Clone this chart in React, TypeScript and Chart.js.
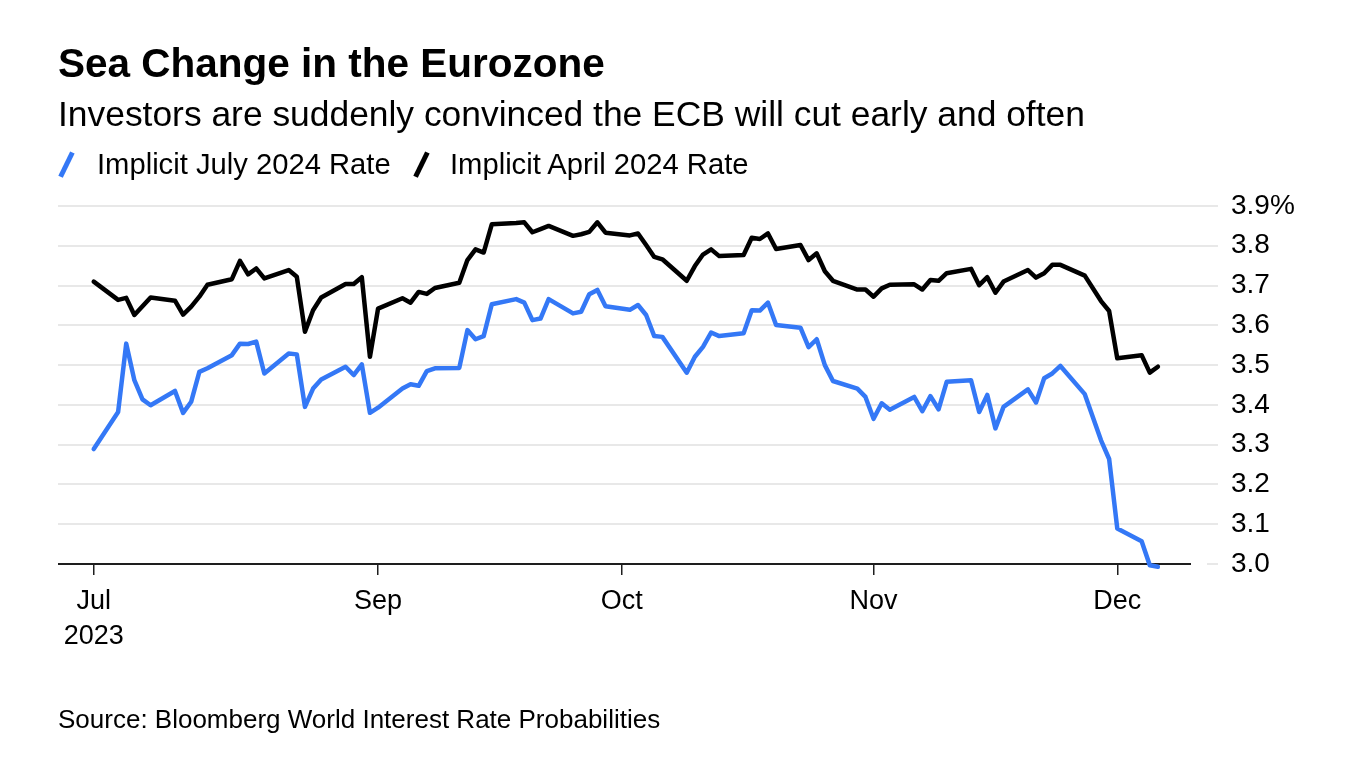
import React, { useEffect, useRef } from 'react';
import { Chart, registerables } from 'chart.js';

Chart.register(...registerables);

// ---- data ----
const dates = [
  '2023-07-28', '2023-07-31', '2023-08-01', '2023-08-02', '2023-08-03', '2023-08-04',
  '2023-08-07', '2023-08-08', '2023-08-09', '2023-08-10', '2023-08-11',
  '2023-08-14', '2023-08-15', '2023-08-16', '2023-08-17', '2023-08-18',
  '2023-08-21', '2023-08-22', '2023-08-23', '2023-08-24', '2023-08-25',
  '2023-08-28', '2023-08-29', '2023-08-30', '2023-08-31', '2023-09-01',
  '2023-09-04', '2023-09-05', '2023-09-06', '2023-09-07', '2023-09-08',
  '2023-09-11', '2023-09-12', '2023-09-13', '2023-09-14', '2023-09-15',
  '2023-09-18', '2023-09-19', '2023-09-20', '2023-09-21', '2023-09-22',
  '2023-09-25', '2023-09-26', '2023-09-27', '2023-09-28', '2023-09-29',
  '2023-10-02', '2023-10-03', '2023-10-04', '2023-10-05', '2023-10-06',
  '2023-10-09', '2023-10-10', '2023-10-11', '2023-10-12', '2023-10-13',
  '2023-10-16', '2023-10-17', '2023-10-18', '2023-10-19', '2023-10-20',
  '2023-10-23', '2023-10-24', '2023-10-25', '2023-10-26', '2023-10-27',
  '2023-10-30', '2023-10-31', '2023-11-01', '2023-11-02', '2023-11-03',
  '2023-11-06', '2023-11-07', '2023-11-08', '2023-11-09', '2023-11-10',
  '2023-11-13', '2023-11-14', '2023-11-15', '2023-11-16', '2023-11-17',
  '2023-11-20', '2023-11-21', '2023-11-22', '2023-11-23', '2023-11-24',
  '2023-11-27', '2023-11-29', '2023-11-30', '2023-12-01',
  '2023-12-04', '2023-12-05', '2023-12-06',
];

const julyRate = [
  3.289, 3.382, 3.554, 3.462, 3.414, 3.399,
  3.435, 3.380, 3.408, 3.483, 3.492,
  3.525, 3.554, 3.553, 3.559, 3.479,
  3.529, 3.527, 3.395, 3.441, 3.464,
  3.496, 3.475, 3.502, 3.380, 3.393,
  3.441, 3.452, 3.448, 3.485, 3.492,
  3.493, 3.588, 3.565, 3.573, 3.653,
  3.666, 3.657, 3.613, 3.617, 3.666,
  3.630, 3.634, 3.678, 3.689, 3.648,
  3.639, 3.651, 3.626, 3.573, 3.571,
  3.481, 3.521, 3.546, 3.582, 3.573,
  3.580, 3.638, 3.637, 3.657, 3.601,
  3.594, 3.545, 3.565, 3.500, 3.460,
  3.441, 3.420, 3.365, 3.404, 3.388,
  3.420, 3.384, 3.422, 3.389, 3.458,
  3.462, 3.382, 3.425, 3.341, 3.395,
  3.439, 3.406, 3.467, 3.479, 3.498,
  3.427, 3.311, 3.264, 3.089,
  3.057, 2.997, 2.993,
];

const aprilRate = [
  3.710, 3.664, 3.669, 3.626, 3.648, 3.670,
  3.662, 3.627, 3.647, 3.672, 3.702,
  3.716, 3.762, 3.728, 3.743, 3.718,
  3.739, 3.722, 3.584, 3.638, 3.670,
  3.704, 3.704, 3.721, 3.521, 3.642,
  3.668, 3.657, 3.684, 3.679, 3.694,
  3.707, 3.764, 3.791, 3.783, 3.854,
  3.857, 3.859, 3.834, 3.842, 3.850,
  3.825, 3.829, 3.835, 3.859, 3.833,
  3.826, 3.831, 3.802, 3.772, 3.766,
  3.712, 3.749, 3.778, 3.791, 3.774,
  3.777, 3.820, 3.817, 3.831, 3.792,
  3.802, 3.764, 3.781, 3.736, 3.712,
  3.690, 3.690, 3.672, 3.693, 3.702,
  3.703, 3.690, 3.714, 3.712, 3.731,
  3.742, 3.701, 3.721, 3.682, 3.710,
  3.739, 3.720, 3.731, 3.752, 3.752,
  3.725, 3.661, 3.636, 3.517,
  3.525, 3.481, 3.496,
];

const seriesNames = ['Implicit July 2024 Rate', 'Implicit April 2024 Rate'];
const seriesColors = ['#3478f6', '#000000'];

const xTickDates = ['2023-07-28', '2023-09-01', '2023-10-01', '2023-11-01', '2023-12-01'];
const xTickLabels: (string | string[])[] = [['Jul', '2023'], 'Sep', 'Oct', 'Nov', 'Dec'];

const yTickValues = [3.0, 3.1, 3.2, 3.3, 3.4, 3.5, 3.6, 3.7, 3.8, 3.9];
const yTickLabels = ['3.0', '3.1', '3.2', '3.3', '3.4', '3.5', '3.6', '3.7', '3.8', '3.9%'];

const TITLE = 'Sea Change in the Eurozone';
const SUBTITLE = 'Investors are suddenly convinced the ECB will cut early and often';
const SOURCE = 'Source: Bloomberg World Interest Rate Probabilities';

// ---- helpers ----
const ORIGIN = Date.parse('2023-09-01');
const toDay = (d: string) => (Date.parse(d) - ORIGIN) / 86400000;

const FONT = '"Liberation Sans", Arial, Helvetica, sans-serif';

const baselinePlugin = {
  id: 'baseline',
  beforeDatasetsDraw(chart: any) {
    const { ctx, chartArea, scales } = chart;
    const py = Math.round(scales.y.getPixelForValue(yTickValues[0]));
    ctx.save();
    ctx.lineWidth = 2;
    ctx.strokeStyle = '#e8e8e8';
    ctx.beginPath();
    ctx.moveTo(chartArea.right - 11, py);
    ctx.lineTo(chartArea.right, py);
    ctx.stroke();
    ctx.strokeStyle = '#1e1e1e';
    ctx.beginPath();
    ctx.moveTo(chartArea.left, py);
    ctx.lineTo(chartArea.right - 27, py);
    ctx.stroke();
    ctx.restore();
  },
};

export default function App() {
  const canvasRef = useRef<HTMLCanvasElement | null>(null);

  useEffect(() => {
    const canvas = canvasRef.current;
    if (!canvas) return;
    const xs = dates.map(toDay);
    const tickDays = xTickDates.map(toDay);

    const chart = new Chart(canvas, {
      type: 'line',
      data: {
        datasets: [
          {
            label: seriesNames[0],
            data: xs.map((x, i) => ({ x, y: julyRate[i] })),
            borderColor: seriesColors[0],
            backgroundColor: seriesColors[0],
            borderWidth: 4.5,
            pointRadius: 0,
            tension: 0,
            borderJoinStyle: 'round',
            borderCapStyle: 'round',
            clip: false,
          },
          {
            label: seriesNames[1],
            data: xs.map((x, i) => ({ x, y: aprilRate[i] })),
            borderColor: seriesColors[1],
            backgroundColor: seriesColors[1],
            borderWidth: 4.5,
            pointRadius: 0,
            tension: 0,
            borderJoinStyle: 'round',
            borderCapStyle: 'round',
            clip: false,
          },
        ],
      },
      options: {
        animation: false,
        responsive: false,
        devicePixelRatio: 1,
        events: [],
        layout: { padding: { left: 58, top: 206, right: 0, bottom: 100 } },
        plugins: {
          legend: { display: false },
          title: { display: false },
          tooltip: { enabled: false },
        },
        scales: {
          x: {
            type: 'linear',
            min: -39.4,
            max: 103.4,
            afterBuildTicks: (scale: any) => {
              scale.ticks = tickDays.map((v) => ({ value: v }));
            },
            afterFit: (scale: any) => {
              scale.height = 100;
            },
            grid: {
              display: true,
              drawOnChartArea: false,
              drawTicks: true,
              tickLength: 11,
              color: '#1e1e1e',
              lineWidth: 1.5,
            },
            border: { display: false },
            ticks: {
              autoSkip: false,
              maxRotation: 0,
              minRotation: 0,
              padding: 9,
              color: '#000',
              font: { family: FONT, size: 27, lineHeight: 1.3 },
              callback: (value: any) => {
                const idx = tickDays.findIndex((t) => Math.abs(t - value) < 1e-6);
                return idx >= 0 ? xTickLabels[idx] : '';
              },
            },
          },
          y: {
            type: 'linear',
            position: 'right',
            min: 3.0,
            max: 3.9,
            afterBuildTicks: (scale: any) => {
              scale.ticks = yTickValues.map((v) => ({ value: v }));
            },
            afterFit: (scale: any) => {
              scale.width = 142;
            },
            grid: {
              drawTicks: false,
              lineWidth: 2,
              color: (c: any) =>
                c.tick && Math.abs(c.tick.value - yTickValues[0]) < 1e-6 ? 'rgba(0,0,0,0)' : '#e8e8e8',
            },
            border: { display: false },
            ticks: {
              padding: 13,
              color: '#000',
              font: { family: FONT, size: 28 },
              callback: (value: any) => {
                const idx = yTickValues.findIndex((t) => Math.abs(t - value) < 1e-6);
                return idx >= 0 ? yTickLabels[idx] : '';
              },
            },
          },
        },
      },
      plugins: [baselinePlugin],
    } as any);

    return () => chart.destroy();
  }, []);

  const slash = (left: number, color: string): React.CSSProperties => ({
    position: 'absolute',
    left,
    top: 151,
    width: 4.5,
    height: 27,
    background: color,
    transform: 'rotate(26deg)',
  });

  return (
    <div
      style={{
        position: 'absolute',
        left: 0,
        top: 0,
        width: 1360,
        height: 764,
        background: '#fff',
        fontFamily: FONT,
        color: '#000',
        overflow: 'hidden',
      }}
    >
      <canvas
        ref={canvasRef}
        width={1360}
        height={764}
        style={{ position: 'absolute', left: 0, top: 0, width: 1360, height: 764 }}
      />
      <div
        style={{
          position: 'absolute',
          left: 58,
          top: 43,
          fontSize: 40.5,
          lineHeight: '40px',
          fontWeight: 700,
          whiteSpace: 'nowrap',
        }}
      >
        {TITLE}
      </div>
      <div
        style={{
          position: 'absolute',
          left: 58,
          top: 97,
          fontSize: 35.4,
          lineHeight: '35px',
          whiteSpace: 'nowrap',
        }}
      >
        {SUBTITLE}
      </div>
      <div style={slash(64, seriesColors[0])} />
      <div
        style={{
          position: 'absolute',
          left: 97,
          top: 150,
          fontSize: 29.2,
          lineHeight: '29px',
          whiteSpace: 'nowrap',
        }}
      >
        {seriesNames[0]}
      </div>
      <div style={slash(419, seriesColors[1])} />
      <div
        style={{
          position: 'absolute',
          left: 450,
          top: 150,
          fontSize: 29.2,
          lineHeight: '29px',
          whiteSpace: 'nowrap',
        }}
      >
        {seriesNames[1]}
      </div>
      <div
        style={{
          position: 'absolute',
          left: 58,
          top: 706,
          fontSize: 26,
          lineHeight: '26px',
          whiteSpace: 'nowrap',
        }}
      >
        {SOURCE}
      </div>
    </div>
  );
}
